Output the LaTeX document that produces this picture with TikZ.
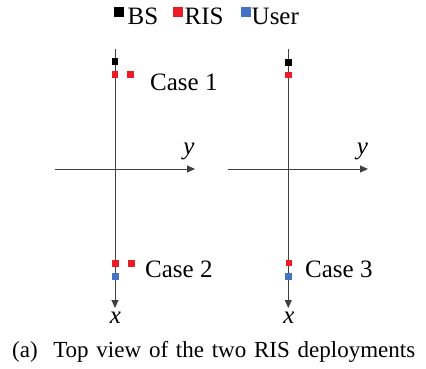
\documentclass[tikz,border=0pt]{standalone}
\usepackage{fontspec}
\setmainfont{Liberation Serif}
\usetikzlibrary{positioning,arrows.meta}
\definecolor{risred}{RGB}{237,28,36}
\definecolor{userblue}{RGB}{68,114,196}
\definecolor{axisgray}{RGB}{64,64,64}
\begin{document}
\begin{tikzpicture}[x=1pt,y=-1pt,
		dot/.style = {shape=rectangle, inner sep=0pt, minimum size=6.5pt, draw=none},
		legdot/.style = {shape=rectangle, inner sep=0pt, minimum size=10pt, draw=none},
		axis/.style = {draw=axisgray, line width=0.9pt, -{Triangle[length=8pt,width=7pt]}},
		label/.style = {inner sep=0pt, font=\fontsize{25}{30}\selectfont}]
		\useasboundingbox (0,0) rectangle (426,368);
		% legend
		\node[legdot, fill=black] (legBS) at (119.3,12) {};
		\node[label, anchor=base west] (txtBS) at (127.5,24) {BS};
		\node[legdot, fill=risred] (legRIS) at (178,12.3) {};
		\node[label, anchor=base west] (txtRIS) at (184.5,24) {RIS};
		\node[legdot, fill=userblue] (legUser) at (245.5,12.3) {};
		\node[label, anchor=base west] (txtUser) at (251.5,24) {User};
		% left axes
		\coordinate (topA) at (115,49);
		\coordinate (endA) at (115,308);
		\coordinate (leftA) at (55,169);
		\coordinate (rightA) at (195,169);
		\draw[axis] (topA) -- (endA);
		\draw[axis] (leftA) -- (rightA);
		\node[label, anchor=base] (xA) at (115.5,323) {\itshape x};
		\node[label, anchor=base] (yA) at (189,154) {\itshape y};
		% right axes
		\coordinate (topB) at (288.3,49);
		\coordinate (endB) at (288.3,308);
		\coordinate (leftB) at (228,169);
		\coordinate (rightB) at (368,169);
		\draw[axis] (topB) -- (endB);
		\draw[axis] (leftB) -- (rightB);
		\node[label, anchor=base] (xB) at (288.8,323) {\itshape x};
		\node[label, anchor=base] (yB) at (362.5,154) {\itshape y};
		% case 1
		\node[dot, fill=black] (bsA) at (115,61.7) {};
		\node[dot, fill=risred] (risA1) at (115,74.5) {};
		\node[dot, fill=risred] (risA2) at (130.7,74.5) {};
		\node[label, anchor=base west] (case1) at (150,90) {Case 1};
		% case 2
		\node[dot, fill=risred] (risC1) at (115.3,263.7) {};
		\node[dot, fill=risred] (risC2) at (131.3,263.3) {};
		\node[dot, fill=userblue] (userC) at (115.3,276.3) {};
		\node[label, anchor=base west] (case2) at (145,277) {Case 2};
		% case 3
		\node[dot, fill=black] (bsB) at (288.3,62.3) {};
		\node[dot, fill=risred] (risB) at (288.3,75) {};
		\node[dot, fill=risred] (risD) at (289,263) {};
		\node[dot, fill=userblue] (userD) at (288.6,276.3) {};
		\node[label, anchor=base west] (case3) at (305,277) {Case 3};
		% caption
		\node[inner sep=0pt, anchor=base west, font=\fontsize{23}{27}\selectfont] (caption) at (12,357.5)
			{\makebox[403pt][s]{(a)\ \ Top view of the two RIS deployments}};
	\end{tikzpicture}
\end{document}
